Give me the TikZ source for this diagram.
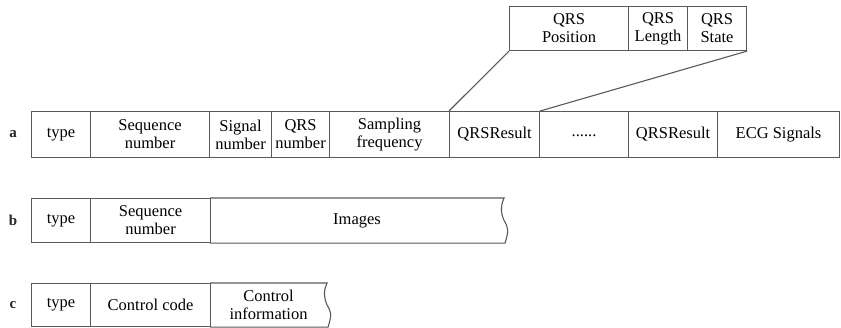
\documentclass[tikz,border=0pt]{standalone}
\usepackage{fontspec}
\setmainfont{Liberation Serif}
\usetikzlibrary{calc}
\begin{document}
\begin{tikzpicture}[x=1pt,y=-1pt,
  cell/.style={draw=black!65, line width=1.1pt, anchor=north west, inner sep=0pt,
    minimum height=46pt, align=center, text=black,
    font=\fontsize{16.5}{18}\selectfont},
  ncell/.style={cell, draw=none},
  rowlabel/.style={font=\fontsize{15}{16}\selectfont\bfseries, text=black!85},
  ln/.style={draw=black!65, line width=1.1pt}]
\useasboundingbox (0,0) rectangle (841,328);
% row a
\node[rowlabel] (la) at (13,134) {a};
\node[cell, minimum width=59pt] (a1) at (31,111) {type};
\node[cell, minimum width=119pt] (a2) at (90,111) {Sequence\\number};
\node[cell, minimum width=62pt] (a3) at (209,111) {Signal\\number};
\node[cell, minimum width=58pt] (a4) at (271,111) {QRS\\number};
\node[cell, minimum width=120pt] (a5) at (329,111) {Sampling\\frequency};
\node[cell, minimum width=90pt] (a6) at (449,111) {QRSResult};
\node[cell, minimum width=89pt] (a7) at (539,111) {\raisebox{-0.5ex}{......}};
\node[cell, minimum width=89pt] (a8) at (628,111) {QRSResult};
\node[cell, minimum width=122pt] (a9) at (717,111) {ECG Signals};
% QRS detail
\node[cell, minimum width=119pt, minimum height=44pt] (q1) at (509,6) {QRS\\Position};
\node[cell, minimum width=59pt, minimum height=44pt] (q2) at (628,6) {QRS\\Length};
\node[cell, minimum width=59pt, minimum height=44pt] (q3) at (687,6) {QRS\\State};
\draw[ln] (q1.south west) -- (a6.north west);
\draw[ln] (q3.south east) -- (a6.north east);
% row b
\node[rowlabel] (lb) at (13,220) {b};
\node[cell, minimum width=59pt, minimum height=44pt] (b1) at (31,198) {type};
\node[cell, minimum width=120pt, minimum height=44pt] (b2) at (90,198) {Sequence\\number};
\node[ncell, minimum width=293pt, minimum height=44pt] (b3) at (210,198) {Images};
\draw[ln] (b3.north west) -- (b3.north east)
  .. controls ($(b3.north east)+(-4,8)$) and ($(b3.east)+(-3,-6)$) .. (b3.east)
  .. controls ($(b3.east)+(4,7)$) and ($(b3.south east)+(5,-13)$) .. ($(b3.south east)+(1,0)$)
  -- (b3.south west);
% row c
\node[rowlabel] (lc) at (13,305) {c};
\node[cell, minimum width=59pt, minimum height=43pt] (c1) at (31,283) {type};
\node[cell, minimum width=120pt, minimum height=43pt] (c2) at (90,283) {Control code};
\node[ncell, minimum width=116pt, minimum height=43pt] (c3) at (210,283) {Control\\information};
\draw[ln] (c3.north west) -- (c3.north east)
  .. controls ($(c3.north east)+(-4,8)$) and ($(c3.east)+(-3,-6)$) .. (c3.east)
  .. controls ($(c3.east)+(4,7)$) and ($(c3.south east)+(5,-13)$) .. ($(c3.south east)+(1,0)$)
  -- (c3.south west);
\end{tikzpicture}
\end{document}
